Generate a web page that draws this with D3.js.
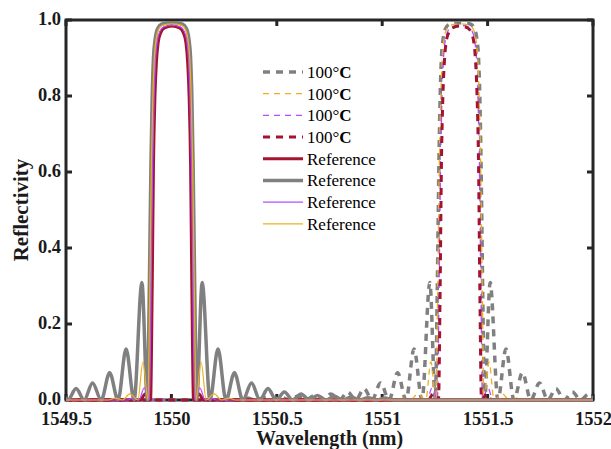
<!DOCTYPE html>
<html>
<head>
<meta charset="utf-8">
<script src="https://cdn.jsdelivr.net/npm/d3@7"></script>
<style>
    body { margin: 0; background: white; }
    text { font-family: "Liberation Serif", "Times New Roman", serif; }
</style>
</head>
<body>
<script>
// wavelength ticks and reflectivity ticks
const xTicks = [1549.5, 1550, 1550.5, 1551, 1551.5, 1552];
const yTicks = [0, 0.2, 0.4, 0.6, 0.8, 1.0];

// centre wavelengths of the two groups (nm)
const refCenter = 1550.003;
const hotCenter = 1551.369;

// spectra: [offset from centre (nm), reflectivity]
const grayProfile = [
    [-2, 0], [-1.05, 0], [-1.01, 0.005], [-0.97, 0], [-0.93, 0.006], [-0.89, 0], [-0.85, 0.008],
    [-0.81, 0], [-0.77, 0.010], [-0.73, 0], [-0.69, 0.012], [-0.651, 0], [-0.612, 0.016],
    [-0.572, 0], [-0.533, 0.021], [-0.494, 0], [-0.455, 0.030], [-0.417, 0], [-0.377, 0.045],
    [-0.336, 0], [-0.296, 0.072], [-0.256, 0], [-0.218, 0.134], [-0.180, 0], [-0.143, 0.309],
    [-0.117, 0], [-0.108, 0.28], [-0.100, 0.62], [-0.094, 0.80], [-0.088, 0.90], [-0.080, 0.95],
    [-0.068, 0.978], [-0.050, 0.989], [-0.025, 0.992], [0, 0.993], [0.025, 0.992], [0.050, 0.989],
    [0.068, 0.978], [0.080, 0.95], [0.088, 0.90], [0.094, 0.80], [0.100, 0.62], [0.108, 0.28],
    [0.117, 0], [0.143, 0.309], [0.180, 0], [0.218, 0.134], [0.256, 0], [0.296, 0.072],
    [0.336, 0], [0.377, 0.045], [0.417, 0], [0.455, 0.030], [0.494, 0], [0.533, 0.021],
    [0.572, 0], [0.612, 0.016], [0.651, 0], [0.69, 0.012], [0.73, 0], [0.77, 0.010], [0.81, 0],
    [0.85, 0.008], [0.89, 0], [0.93, 0.006], [0.97, 0], [1.01, 0.005], [1.05, 0], [2, 0]
];
const orangeProfile = [
    [-2, 0], [-0.30, 0], [-0.27, 0.005], [-0.235, 0], [-0.200, 0.016], [-0.162, 0], [-0.138, 0.10],
    [-0.114, 0], [-0.106, 0.28], [-0.098, 0.62], [-0.091, 0.80], [-0.084, 0.90], [-0.076, 0.948],
    [-0.064, 0.975], [-0.046, 0.986], [-0.022, 0.989], [0, 0.990], [0.022, 0.989], [0.046, 0.986],
    [0.064, 0.975], [0.076, 0.948], [0.084, 0.90], [0.091, 0.80], [0.098, 0.62], [0.106, 0.28],
    [0.114, 0], [0.138, 0.10], [0.162, 0], [0.200, 0.016], [0.235, 0], [0.27, 0.005], [0.30, 0],
    [2, 0]
];
const purpleProfile = [
    [-2, 0], [-0.21, 0], [-0.185, 0.005], [-0.157, 0], [-0.132, 0.032], [-0.107, 0],
    [-0.099, 0.3], [-0.092, 0.62], [-0.085, 0.80], [-0.078, 0.90], [-0.070, 0.945],
    [-0.058, 0.970], [-0.040, 0.982], [0, 0.986], [0.040, 0.982], [0.058, 0.970], [0.070, 0.945],
    [0.078, 0.90], [0.085, 0.80], [0.092, 0.62], [0.099, 0.3], [0.107, 0], [0.132, 0.032],
    [0.157, 0], [0.185, 0.005], [0.21, 0], [2, 0]
];
const redProfile = [
    [-2, 0], [-0.150, 0], [-0.128, 0.016], [-0.102, 0], [-0.094, 0.3], [-0.088, 0.62],
    [-0.081, 0.80], [-0.074, 0.89], [-0.066, 0.94], [-0.054, 0.966], [-0.036, 0.979], [0, 0.984],
    [0.036, 0.979], [0.054, 0.966], [0.066, 0.94], [0.074, 0.89], [0.081, 0.80], [0.088, 0.62],
    [0.094, 0.3], [0.102, 0], [0.128, 0.016], [0.150, 0], [2, 0]
];

const legendLabels = ["100°", "100°", "100°", "100°", "Reference", "Reference", "Reference", "Reference"];

(function () {

    let svgContainer = "";
    const left = 66, right = 593, top = 20, bottom = 400;

    const gray = "#808080", orange = "#EDB120", purple = "#B44CFF", red = "#A2142F";

    // plotted in this order, same as the legend
    const series = [
        { profile: grayProfile, center: hotCenter, color: gray, width: 3.5, dash: "7,6" },
        { profile: orangeProfile, center: hotCenter, color: orange, width: 1.3, dash: "6,5" },
        { profile: purpleProfile, center: hotCenter, color: purple, width: 1.3, dash: "6,5" },
        { profile: redProfile, center: hotCenter, color: red, width: 3, dash: "7,6" },
        { profile: redProfile, center: refCenter, color: red, width: 3, dash: null },
        { profile: grayProfile, center: refCenter, color: gray, width: 3.5, dash: null },
        { profile: purpleProfile, center: refCenter, color: purple, width: 1.2, dash: null },
        { profile: orangeProfile, center: refCenter, color: orange, width: 1.2, dash: null }
    ];

    let xScale = d3.scaleLinear().domain([1549.5, 1552]).range([left, right]);
    let yScale = d3.scaleLinear().domain([0, 1]).range([bottom, top]);

    window.onload = function () {
        svgContainer = d3.select('body')
            .append('svg')
            .attr('width', 611)
            .attr('height', 449);

        makeAxes();
        plotCurves();
        makeLegend();
    }

    function makeAxes() {
        const axisColor = "#262626";

        let xAxis = d3.axisBottom(xScale).tickValues(xTicks).tickSize(0).tickFormat(d3.format("~g"));
        svgContainer.append("g")
            .attr("transform", "translate(0," + bottom + ")")
            .call(xAxis)
            .call(g => g.select(".domain").remove())
            .selectAll("text")
            .attr("y", 0)
            .attr("dy", 0)
            .attr("transform", "translate(0,24.5)")
            .attr("fill", "#1a1a1a")
            .attr("font-size", 18.5)
            .attr("font-weight", "bold");

        let yAxis = d3.axisLeft(yScale).tickValues(yTicks).tickSize(0).tickFormat(d3.format(".1f"));
        svgContainer.append("g")
            .attr("transform", "translate(" + left + ",0)")
            .call(yAxis)
            .call(g => g.select(".domain").remove())
            .selectAll("text")
            .attr("x", -5)
            .attr("dy", "0.25em")
            .attr("fill", "#1a1a1a")
            .attr("font-size", 18.5)
            .attr("font-weight", "bold");

        // inward ticks on all four sides
        xTicks.forEach(t => {
            svgContainer.append("line")
                .attr("x1", xScale(t)).attr("x2", xScale(t))
                .attr("y1", bottom).attr("y2", bottom - 6)
                .attr("stroke", axisColor).attr("stroke-width", 3);
            svgContainer.append("line")
                .attr("x1", xScale(t)).attr("x2", xScale(t))
                .attr("y1", top).attr("y2", top + 6)
                .attr("stroke", axisColor).attr("stroke-width", 3);
        });
        yTicks.forEach(t => {
            svgContainer.append("line")
                .attr("x1", left).attr("x2", left + 6)
                .attr("y1", yScale(t)).attr("y2", yScale(t))
                .attr("stroke", axisColor).attr("stroke-width", 3);
            svgContainer.append("line")
                .attr("x1", right).attr("x2", right - 6)
                .attr("y1", yScale(t)).attr("y2", yScale(t))
                .attr("stroke", axisColor).attr("stroke-width", 3);
        });

        svgContainer.append("rect")
            .attr("x", left)
            .attr("y", top)
            .attr("width", right - left)
            .attr("height", bottom - top)
            .attr("fill", "none")
            .attr("stroke", axisColor)
            .attr("stroke-width", 3);

        //axis labels
        svgContainer.append("text")
            .attr("x", (left + right) / 2)
            .attr("y", 444.6)
            .attr("text-anchor", "middle")
            .attr("font-size", 20)
            .attr("font-weight", "bold")
            .attr("fill", "#1a1a1a")
            .text("Wavelength (nm)");

        svgContainer.append("text")
            .attr("transform", "translate(28," + (top + bottom) / 2 + ") rotate(-90)")
            .attr("text-anchor", "middle")
            .attr("font-size", 21)
            .attr("font-weight", "bold")
            .attr("fill", "#1a1a1a")
            .text("Reflectivity");
    }

    function plotCurves() {
        svgContainer.append("clipPath")
            .attr("id", "plotClip")
            .append("rect")
            .attr("x", left)
            .attr("y", top - 2)
            .attr("width", right - left)
            .attr("height", bottom - top + 4);

        let g = svgContainer.append("g").attr("clip-path", "url(#plotClip)");

        series.forEach(s => {
            let line = d3.line()
                .x(d => xScale(s.center + d[0]))
                .y(d => yScale(d[1]))
                .curve(d3.curveMonotoneX);

            g.append("path")
                .datum(s.profile)
                .attr("d", line)
                .attr("fill", "none")
                .attr("stroke", s.color)
                .attr("stroke-width", s.width)
                .attr("stroke-dasharray", s.dash)
                .attr("stroke-linejoin", "round");
        });
    }

    function makeLegend() {
        let y0 = 72, step = 21.7;
        series.forEach((s, i) => {
            let y = y0 + i * step;
            svgContainer.append("line")
                .attr("x1", 263).attr("x2", 303)
                .attr("y1", y).attr("y2", y)
                .attr("stroke", s.color)
                .attr("stroke-width", s.width)
                .attr("stroke-dasharray", s.dash);

            let t = svgContainer.append("text")
                .attr("x", 307)
                .attr("y", y)
                .attr("dy", "0.35em")
                .attr("font-size", 17)
                .attr("fill", "black")
                .text(legendLabels[i]);
            if (i < 4) {
                t.append("tspan").attr("font-weight", "bold").text("C");
            }
        });
    }
})();
</script>
</body>
</html>
